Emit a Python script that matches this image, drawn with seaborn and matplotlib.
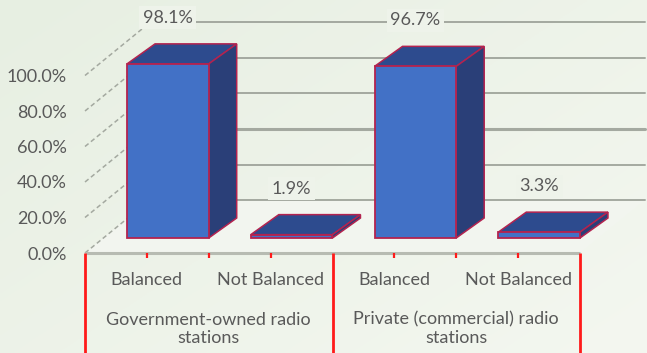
import numpy as np
import pandas as pd
import matplotlib
matplotlib.use("Agg")
import matplotlib.pyplot as plt
import seaborn as sns
from matplotlib.patches import Polygon
from matplotlib.colors import to_rgb
from matplotlib.ticker import PercentFormatter

# ---- data -------------------------------------------------------------
group_names = ["Government-owned radio\nstations",
               "Private (commercial) radio\nstations"]
responses = ["Balanced", "Not Balanced"]
gov_shares = [98.1, 1.9]          # percent
private_shares = [96.7, 3.3]      # percent
y_ticks = [0, 20, 40, 60, 80, 100]

rows = []
for g, shares in zip(group_names, [gov_shares, private_shares]):
    for r, v in zip(responses, shares):
        rows.append({"group": g, "response": r, "key": g + "|" + r, "share": v})
df = pd.DataFrame(rows)
order = list(df["key"])

# ---- style ------------------------------------------------------------
sns.set_style("white")
plt.rcParams["font.family"] = ["Lato", "DejaVu Sans"]
FS = 13
TXT = "#595959"
FRONT = "#4271c6"
TOP = "#2d4b8e"
SIDE = "#2a3f78"
EDGE = "#b3234f"
GRID = "#a4a9a0"
RED = "#ff1a1a"

W, H, DPI = 647, 353, 100
fig = plt.figure(figsize=(W / DPI, H / DPI), dpi=DPI)

# soft slide background
bg = fig.add_axes([0, 0, 1, 1], zorder=-10)
yy, xx = np.mgrid[0:1:200j, 0:1:300j]
t = np.clip(0.55 * xx + 0.45 * yy, 0, 1)[..., None]
c0 = np.array(to_rgb("#e7efe2"))
c1 = np.array(to_rgb("#f4f7f0"))
bg.imshow(c0 * (1 - t) + c1 * t, aspect="auto", extent=[0, 1, 0, 1], origin="upper")
bg.set_axis_off()

# front plane of the 3-D box: 4 category slots, 0..100 %
x_left, x_right, y_base, px_per_100 = 85, 580, 253, 177.5
ax = fig.add_axes([x_left / W, (H - y_base) / H, (x_right - x_left) / W, px_per_100 / H])
ax.set_facecolor("none")

# bars (front faces)
sns.barplot(data=df, x="key", y="share", order=order, width=0.66, color=FRONT,
            edgecolor=EDGE, linewidth=1.3, saturation=1, ax=ax, zorder=3)
bars = list(ax.patches)
ax.set_xlim(-0.5, 3.5)
ax.set_ylim(0, 100)

px_x = 1.0 / ((x_right - x_left) / 4)   # data units per pixel (x)
px_y = 100.0 / px_per_100               # data units per pixel (y)

# depth vectors
wall_dx, wall_dy = 65 * px_x, 53 * px_y      # front plane -> back wall
bar_sx, bar_sy = 21 * px_x, 15 * px_y        # front plane -> bar front face
bar_dx, bar_dy = 28 * px_x, 20 * px_y        # bar depth

# floor
floor = Polygon([(-0.5, 0), (3.5, 0), (3.5 + wall_dx, wall_dy), (-0.5 + wall_dx, wall_dy)],
                closed=True, facecolor="#f2f5ef", edgecolor="none", zorder=0.5, clip_on=False)
ax.add_patch(floor)

# side-wall (dashed) and back-wall gridlines
for v in y_ticks:
    ax.plot([-0.5, -0.5 + wall_dx], [v, v + wall_dy], color=GRID, lw=1.1,
            ls=(0, (3, 2)), zorder=0.6, clip_on=False)
    ax.plot([-0.5 + wall_dx, 3.5 + wall_dx], [v + wall_dy] * 2, color=GRID,
            lw=2.2 if v == 40 else 1.4, zorder=0.6, clip_on=False)

# front floor edge
ax.plot([-0.5, 3.5], [0, 0], color="#b7bbb2", lw=2.2, zorder=0.7, clip_on=False,
        solid_capstyle="butt")

# shift bars back to mid-depth
for p in bars:
    p.set_clip_on(False)
    p.set_x(p.get_x() + bar_sx)
    p.set_y(p.get_y() + bar_sy)

# top and side faces, value labels
for p, v in zip(bars, df["share"]):
    x0, y0, w, h = p.get_x(), p.get_y(), p.get_width(), p.get_height()
    top = Polygon([(x0, y0 + h), (x0 + w, y0 + h), (x0 + w + bar_dx, y0 + h + bar_dy),
                   (x0 + bar_dx, y0 + h + bar_dy)], closed=True, facecolor=TOP,
                  edgecolor=EDGE, lw=1.1, zorder=2.5, clip_on=False)
    side = Polygon([(x0 + w, y0), (x0 + w + bar_dx, y0 + bar_dy),
                    (x0 + w + bar_dx, y0 + h + bar_dy), (x0 + w, y0 + h)], closed=True,
                   facecolor=SIDE, edgecolor=EDGE, lw=1.1, zorder=2.5, clip_on=False)
    ax.add_patch(top)
    ax.add_patch(side)
    ax.text(x0 + w / 2, y0 + h + 46 * px_y, f"{v:.1f}%", ha="center", va="center",
            fontsize=FS, color=TXT, zorder=5, clip_on=False,
            bbox=dict(boxstyle="square,pad=0.2", facecolor="#eef3ea", edgecolor="none"))

# y axis
ax.set_yticks(y_ticks)
ax.yaxis.set_major_formatter(PercentFormatter(100, decimals=1))
ax.tick_params(axis="y", length=0, pad=13, labelsize=FS, labelcolor=TXT)
ax.set_xticks([])
ax.set_xlabel("")
ax.set_ylabel("")
for s in ax.spines.values():
    s.set_visible(False)

# multi-level category axis
bottom = -(H - y_base) * px_y
for xv in [-0.5, 1.5, 3.5]:
    ax.plot([xv, xv], [0, bottom], color=RED, lw=2, zorder=4, clip_on=False,
            solid_capstyle="butt")
for xv in [0, 0.5, 1, 2, 2.5, 3]:
    ax.plot([xv, xv], [0, -5 * px_y], color=RED, lw=1.6, zorder=4, clip_on=False,
            solid_capstyle="butt")
for i, r in enumerate(responses * 2):
    ax.text(i, -27 * px_y, r, ha="center", va="center", fontsize=FS, color=TXT,
            clip_on=False)
for gi, g in enumerate(group_names):
    ax.text(2 * gi + 0.5, -76 * px_y, g, ha="center", va="center", fontsize=FS,
            color=TXT, linespacing=1.2, multialignment="center", clip_on=False)

fig.savefig("out.png", dpi=DPI)
